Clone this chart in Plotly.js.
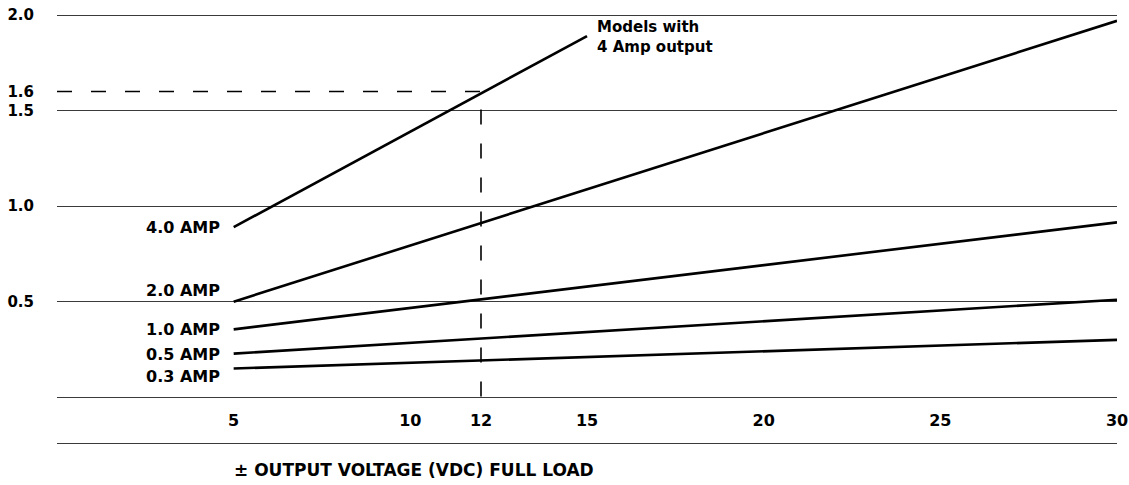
<!DOCTYPE html>
<html><head><meta charset="utf-8">
<script src="https://cdn.plot.ly/plotly-3.0.1.min.js"></script>
<style>html,body{margin:0;padding:0;background:#fff;} #chart{width:1129px;height:485px;}</style>
</head><body><div id="chart"></div>
<script>
// ---- data ----
const voltageRange = [5, 30];          // VDC, start/end of the 0.3–2.0 A lines
const voltage4A = [5, 15];             // VDC, start/end of the 4 A line
const amp4 = [0.89, 1.89];
const amp2 = [0.50, 1.97];
const amp1 = [0.355, 0.915];
const amp05 = [0.228, 0.51];
const amp03 = [0.15, 0.30];
const seriesNames = ['4.0 AMP', '2.0 AMP', '1.0 AMP', '0.5 AMP', '0.3 AMP'];
const xTickVals = [5, 10, 12, 15, 20, 25, 30];
const xTickText = ['5', '10', '12', '15', '20', '25', '30'];
const yTickVals = [0, 0.5, 1.0, 1.5, 2.0];
const yTickText = ['', '0.5', '1.0', '1.5', '2.0'];
const refVoltage = 12;
const refAmp = 1.6;
const refLow = -0.07;
const note4A = 'Models with<br>4 Amp output';
const xTitle = '\u00B1 OUTPUT VOLTAGE (VDC) FULL LOAD';

// ---- styling ----
const FONT = 'DejaVu Sans, sans-serif';
const ink = '#000';
const gridCol = '#3a3a3a';
const labelShift = [0, 11, 0, -1, -8]; // vertical offsets of line labels (px)

const seriesX = [voltage4A, voltageRange, voltageRange, voltageRange, voltageRange];
const seriesY = [amp4, amp2, amp1, amp05, amp03];

const traces = seriesY.map((ys, i) => ({
  x: seriesX[i], y: ys, type: 'scatter', mode: 'lines',
  line: {color: ink, width: 2.6}, hoverinfo: 'skip', showlegend: false, name: seriesNames[i]
}));
traces.push({
  x: [0, refVoltage, refVoltage], y: [refAmp, refAmp, refLow],
  type: 'scatter', mode: 'lines', line: {color: ink, width: 1.6, dash: '15px,19px'},
  hoverinfo: 'skip', showlegend: false
});
// invisible trace for the second (1.6) y axis
traces.push({x: [0], y: [refAmp], yaxis: 'y2', mode: 'markers', marker: {opacity: 0}, hoverinfo: 'skip', showlegend: false});

const annotations = seriesNames.map((n, i) => ({
  x: seriesX[i][0], y: seriesY[i][0], xref: 'x', yref: 'y',
  text: n, showarrow: false, xanchor: 'right', yanchor: 'middle',
  xshift: -12, yshift: labelShift[i],
  font: {family: FONT, size: 16, color: ink, weight: 700}
}));
annotations.push({
  x: voltage4A[1], y: amp4[1], xref: 'x', yref: 'y', text: note4A, showarrow: false,
  xanchor: 'left', yanchor: 'middle', align: 'left', xshift: 8, yshift: -1,
  font: {family: FONT, size: 15, color: ink, weight: 700}
});
annotations.push({
  x: voltageRange[0], y: 0, xref: 'x', yref: 'paper', text: xTitle, showarrow: false,
  xanchor: 'left', yanchor: 'middle', yshift: -27, xshift: -2,
  font: {family: FONT, size: 17, color: ink, weight: 700}
});

const yRange = [-0.24, 2.053];
const layout = {
  width: 1129, height: 485,
  margin: {l: 57, r: 12, t: 5, b: 42},
  paper_bgcolor: '#fff', plot_bgcolor: '#fff',
  showlegend: false,
  font: {family: FONT, color: ink},
  xaxis: {
    range: [0, 30], tickvals: xTickVals, ticktext: xTickText,
    showgrid: false, zeroline: false, showline: true, linecolor: gridCol, linewidth: 1.2,
    ticks: '', ticklabelposition: 'inside', ticklabelstandoff: 14, ticklabeloverflow: 'allow',
    tickfont: {family: FONT, size: 16, color: ink, weight: 700}
  },
  yaxis: {
    range: yRange, tickvals: yTickVals, ticktext: yTickText,
    showgrid: true, gridcolor: gridCol, gridwidth: 1.2, zeroline: false, showline: false,
    ticks: '', ticklabelstandoff: 22,
    tickfont: {family: FONT, size: 15, color: ink, weight: 700}
  },
  yaxis2: {
    range: yRange, overlaying: 'y', side: 'left', tickvals: [refAmp], ticktext: ['1.6'],
    showgrid: false, zeroline: false, showline: false, ticks: '', ticklabelstandoff: 22,
    tickfont: {family: FONT, size: 15, color: ink, weight: 700}
  },
  annotations: annotations
};

Plotly.newPlot('chart', traces, layout, {displayModeBar: false, staticPlot: true});
</script>
</body></html>
